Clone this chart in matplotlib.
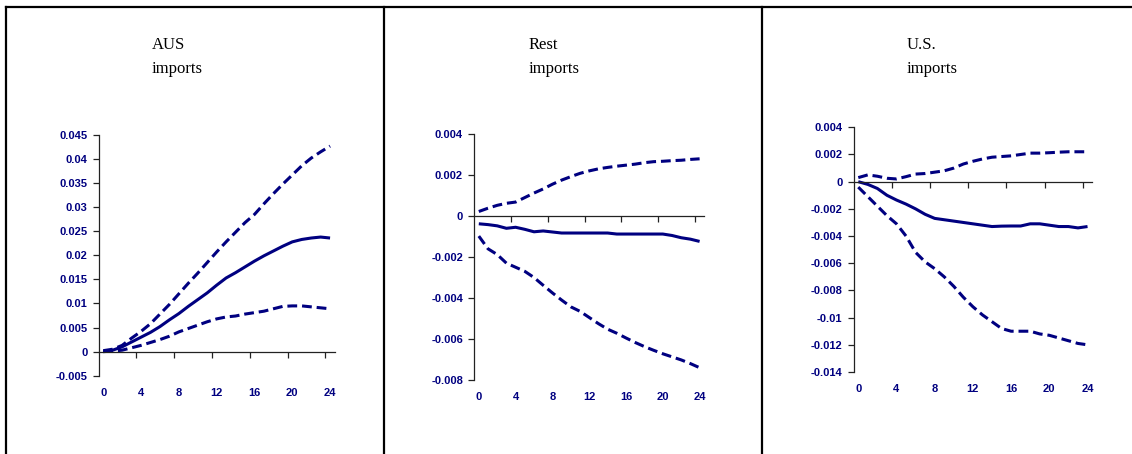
import matplotlib
matplotlib.use("Agg")
import matplotlib.pyplot as plt
from matplotlib.lines import Line2D
import numpy as np

# ---------------- data ----------------
periods = list(range(25))
xtick_labels = ["0", "4", "8", "12", "16", "20", "24"]

titles = [("AUS", "imports"), ("Rest", "imports"), ("U.S.", "imports")]

aus_mid = [0.0000, 0.0003, 0.0010, 0.0020, 0.0030, 0.0040, 0.0052, 0.0066, 0.0079,
           0.0094, 0.0108, 0.0122, 0.0138, 0.0153, 0.0164, 0.0176, 0.0188, 0.0199,
           0.0209, 0.0219, 0.0228, 0.0233, 0.0236, 0.0238, 0.0236]
aus_up = [0.0002, 0.0005, 0.0013, 0.0028, 0.0042, 0.0058, 0.0078, 0.0098, 0.0120,
          0.0142, 0.0163, 0.0185, 0.0207, 0.0228, 0.0248, 0.0268, 0.0285, 0.0307,
          0.0328, 0.0348, 0.0367, 0.0386, 0.0402, 0.0415, 0.0427]
aus_lo = [0.0000, 0.0001, 0.0003, 0.0008, 0.0013, 0.0019, 0.0025, 0.0032, 0.0041,
          0.0048, 0.0055, 0.0062, 0.0068, 0.0072, 0.0074, 0.0078, 0.0081, 0.0084,
          0.0089, 0.0094, 0.0095, 0.0095, 0.0093, 0.0091, 0.0089]

rest_mid = [-0.00038, -0.00042, -0.00048, -0.00060, -0.00055, -0.00065, -0.00077,
            -0.00073, -0.00078, -0.00083, -0.00083, -0.00083, -0.00083, -0.00083,
            -0.00083, -0.00088, -0.00088, -0.00088, -0.00088, -0.00088, -0.00088,
            -0.00095, -0.00106, -0.00113, -0.00124]
rest_up = [0.00022, 0.00038, 0.00052, 0.00062, 0.00068, 0.00090, 0.00112, 0.00132,
           0.00155, 0.00175, 0.00192, 0.00208, 0.00220, 0.00230, 0.00237, 0.00243,
           0.00248, 0.00253, 0.00260, 0.00265, 0.00267, 0.00270, 0.00272, 0.00276,
           0.00279]
rest_lo = [-0.00098, -0.00160, -0.00188, -0.00230, -0.00250, -0.00270, -0.00300,
           -0.00338, -0.00375, -0.00410, -0.00443, -0.00465, -0.00495, -0.00525,
           -0.00552, -0.00572, -0.00595, -0.00617, -0.00637, -0.00655, -0.00672,
           -0.00687, -0.00702, -0.00720, -0.00740]

us_mid = [0.0000, -0.0002, -0.0005, -0.0010, -0.00135, -0.00165, -0.0020, -0.0024,
          -0.0027, -0.0028, -0.0029, -0.0030, -0.0031, -0.0032, -0.0033, -0.00327,
          -0.00326, -0.00326, -0.0031, -0.0031, -0.0032, -0.0033, -0.0033, -0.0034,
          -0.0033]
us_up = [0.0003, 0.0005, 0.0004, 0.00025, 0.0002, 0.00037, 0.00056, 0.0006, 0.0007,
         0.0008, 0.0010, 0.0013, 0.0015, 0.00167, 0.0018, 0.00185, 0.0019, 0.0020,
         0.0021, 0.0021, 0.00213, 0.00217, 0.0022, 0.0022, 0.0022]
us_lo = [-0.0004, -0.0011, -0.0018, -0.0025, -0.0031, -0.0040, -0.0052, -0.0059,
         -0.0064, -0.0070, -0.0077, -0.0085, -0.0092, -0.0098, -0.0103, -0.0108,
         -0.0110, -0.0110, -0.0110, -0.0112, -0.0113, -0.0115, -0.0117, -0.0119,
         -0.0120]

aus_yticks = [0.045, 0.04, 0.035, 0.03, 0.025, 0.02, 0.015, 0.01, 0.005, 0, -0.005]
rest_yticks = [0.004, 0.002, 0, -0.002, -0.004, -0.006, -0.008]
us_yticks = [0.004, 0.002, 0, -0.002, -0.004, -0.006, -0.008, -0.01, -0.012, -0.014]

panels = [
    (aus_mid, aus_up, aus_lo, aus_yticks),
    (rest_mid, rest_up, rest_lo, rest_yticks),
    (us_mid, us_up, us_lo, us_yticks),
]

# ---------------- layout (pixels) ----------------
W, H = 1132, 454
axes_px = [  # x0, x1, ytop, ybottom
    (98.5, 334.8, 135.0, 375.7),
    (474.2, 704.2, 134.0, 380.0),
    (853.5, 1092.3, 127.3, 372.0),
]
title_px = [(151.7, 49, 73), (529.0, 49, 73), (906.7, 49, 73)]

NAVY = "#000080"
fig = plt.figure(figsize=(W / 100, H / 100), dpi=100)
fig.patch.set_facecolor("white")

def fmt(v):
    return "0" if v == 0 else f"{v:g}"

for (mid, up, lo, yt), (x0, x1, yt_px, yb_px), (tx, ty1, ty2), (t1, t2) in zip(
        panels, axes_px, title_px, titles):
    ax = fig.add_axes([x0 / W, 1 - yb_px / H, (x1 - x0) / W, (yb_px - yt_px) / H])
    ax.plot(periods, up, color=NAVY, lw=2.2, ls=(0, (3.2, 1.6)), solid_capstyle="butt")
    ax.plot(periods, lo, color=NAVY, lw=2.2, ls=(0, (3.2, 1.6)), solid_capstyle="butt")
    ax.plot(periods, mid, color=NAVY, lw=2.2, solid_capstyle="butt")
    ax.set_xlim(-0.5, 24.5)
    ax.set_ylim(min(yt), max(yt))
    ax.set_yticks(yt)
    ax.set_yticklabels([fmt(v) for v in yt])
    for s in ("top", "right"):
        ax.spines[s].set_visible(False)
    ax.spines["left"].set_color("#222222")
    ax.spines["left"].set_linewidth(0.9)
    ax.spines["bottom"].set_position(("data", 0))
    ax.spines["bottom"].set_color("#222222")
    ax.spines["bottom"].set_linewidth(0.9)
    ax.tick_params(axis="y", direction="out", length=4, width=0.9, color="#222222",
                   pad=4, labelsize=8, labelcolor=NAVY)
    # x: tick marks between categories at the zero line
    ax.set_xticks(np.arange(3.5, 24.5, 4))
    ax.set_xticklabels([])
    ax.tick_params(axis="x", direction="out", length=4, width=0.9, color="#222222")
    # x labels below the plot area
    sec = ax.secondary_xaxis(0)
    sec.set_xticks(periods[::4])
    sec.set_xticklabels(xtick_labels)
    sec.spines["bottom"].set_visible(False)
    sec.tick_params(axis="x", length=0, pad=9, labelsize=8, labelcolor=NAVY)
    for lab in ax.get_yticklabels() + sec.get_xticklabels():
        lab.set_fontfamily("Liberation Sans")
        lab.set_fontweight("bold")
    fig.text(tx / W, 1 - ty1 / H, t1, family="Liberation Serif", fontsize=12,
             va="baseline", ha="left")
    fig.text(tx / W, 1 - ty2 / H, t2, family="Liberation Serif", fontsize=12,
             va="baseline", ha="left")

# frame lines
lw = 1.6
fig.add_artist(Line2D([6 / W, 1], [1 - 6.5 / H] * 2, color="black", lw=lw,
                      transform=fig.transFigure))
for xp in (6, 384, 762):
    fig.add_artist(Line2D([xp / W] * 2, [0, 1 - 6.5 / H], color="black", lw=lw,
                          transform=fig.transFigure))

fig.savefig("out.png", dpi=100, facecolor="white")
